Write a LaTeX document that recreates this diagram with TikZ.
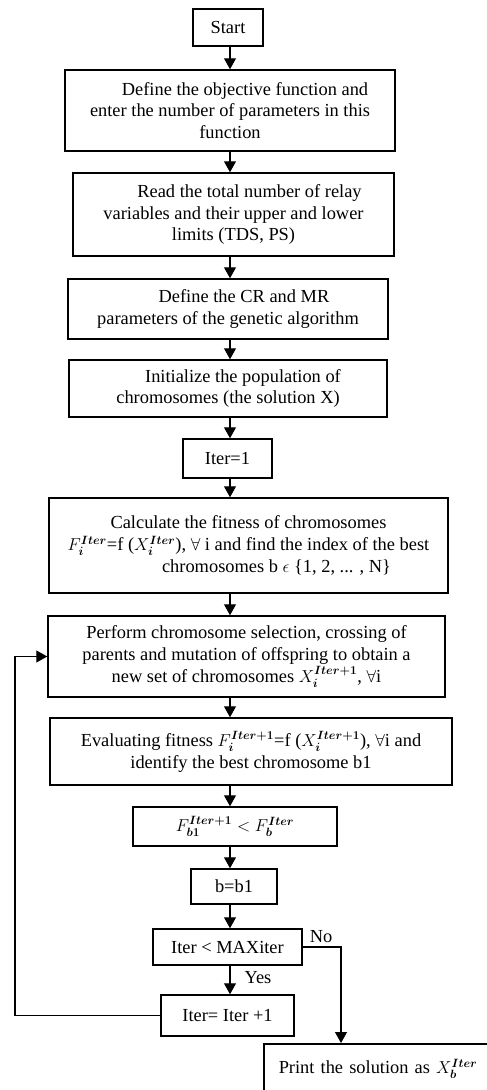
\documentclass[tikz,border=0pt]{standalone}
\usepackage{fontspec}
\setmainfont{Liberation Serif}
\usepackage{amsmath}
\usepackage{bm}
\usetikzlibrary{arrows.meta}

\begin{document}
\begin{tikzpicture}[x=1pt,y=-1pt,
	box/.style={draw,line width=1.5pt,align=center,inner sep=0pt,font=\fontsize{18.4}{21.7}\selectfont},
	lbl/.style={inner sep=0pt,font=\fontsize{18.4}{21.7}\selectfont},
	arr/.style={line width=1.2pt,-{Triangle[width=12pt,length=11pt]}}]
	\useasboundingbox (0,0) rectangle (487,1090);
	\clip (0,0) rectangle (487,1090);
	\coordinate (spine) at (230,0);
	\coordinate (loopx) at (15,0);
	\coordinate (nox) at (341,0);

	\node[box,minimum width=70pt,minimum height=37pt] (start) at (228,27.5) {Start};
	\node[box,minimum width=330pt,minimum height=81pt] (obj) at (230,110.5)
	{\hspace*{30pt}Define the objective function and\\enter the number of parameters in this\\function};
	\node[box,minimum width=321pt,minimum height=83pt] (relay) at (233.5,214.5)
	{\hspace*{32pt}Read the total number of relay\\variables and their upper and lower\\limits (TDS, PS)};
	\node[box,minimum width=320pt,minimum height=60pt] (crmr) at (228,309)
	{\hspace*{32pt}Define the CR and MR\\parameters of the genetic algorithm};
	\node[box,minimum width=318pt,minimum height=57pt] (init) at (228,388.5)
	{\hspace*{30pt}Initialize the population of\\chromosomes (the solution X)};
	\node[box,minimum width=89pt,minimum height=39pt] (iter1) at (227.5,458.5) {Iter=1};
	\node[box,minimum width=399pt,minimum height=95pt] (fit) at (248.5,545.5)
	{Calculate the fitness of chromosomes\\
	$F_{\bm{i}}^{\bm{Iter}}$=f ($X_{\bm{i}}^{\bm{Iter}}$), $\forall$ i and find the index of the best\\
	\hspace*{56pt}chromosomes b $\epsilon$ \{1, 2, ... , N\}};
	\node[box,minimum width=397pt,minimum height=81pt] (sel) at (246.5,656.5)
	{Perform chromosome selection, crossing of\\parents and mutation of offspring to obtain a\\
	new set of chromosomes $X_{\bm{i}}^{\bm{Iter+1}}$, $\forall$i};
	\node[box,minimum width=402pt,minimum height=67pt] (eval) at (251,751.5)
	{Evaluating fitness $F_{\bm{i}}^{\bm{Iter+1}}$=f ($X_{\bm{i}}^{\bm{Iter+1}}$), $\forall$i and\\
	identify the best chromosome b1};
	\node[box,minimum width=204pt,minimum height=39pt] (cmp) at (235,826.5)
	{$F_{\bm{b1}}^{\bm{Iter+1}} < F_{\bm{b}}^{\bm{Iter}}$};
	\node[box,minimum width=86pt,minimum height=35pt] (bb) at (234,886.5) {b=b1};
	\node[box,minimum width=149pt,minimum height=36pt] (maxit) at (227.5,947) {Iter < MAXiter};
	\node[box,minimum width=133pt,minimum height=41pt] (inc) at (227.5,1015.5) {Iter= Iter +1};
	\node[box,anchor=north west,align=left,text width=270pt,inner xsep=15pt,inner ysep=12pt,
	text height=18pt,text depth=40pt] (print) at (263,1043)
	{Print the solution as $X_{\bm{b}}^{\bm{Iter}}$};

	\node[lbl] (no) at (321,937) {No};
	\node[lbl] (yes) at (258,978) {Yes};

	\draw[arr] (start.south -| spine) -- (obj.north -| spine);
	\draw[arr] (obj.south -| spine) -- (relay.north -| spine);
	\draw[arr] (relay.south -| spine) -- (crmr.north -| spine);
	\draw[arr] (crmr.south -| spine) -- (init.north -| spine);
	\draw[arr] (init.south -| spine) -- (iter1.north -| spine);
	\draw[arr] (iter1.south -| spine) -- (fit.north -| spine);
	\draw[arr] (fit.south -| spine) -- (sel.north -| spine);
	\draw[arr] (sel.south -| spine) -- (eval.north -| spine);
	\draw[arr] (eval.south -| spine) -- (cmp.north -| spine);
	\draw[arr] (cmp.south -| spine) -- (bb.north -| spine);
	\draw[arr] (bb.south -| spine) -- (maxit.north -| spine);
	\draw[arr] (maxit.south -| spine) -- (inc.north -| spine);
	\draw[arr] (maxit.east) -| (nox |- print.north);
	\draw[arr] (inc.west) -- (inc.west -| loopx) |- (sel.west);
\end{tikzpicture}
\end{document}
